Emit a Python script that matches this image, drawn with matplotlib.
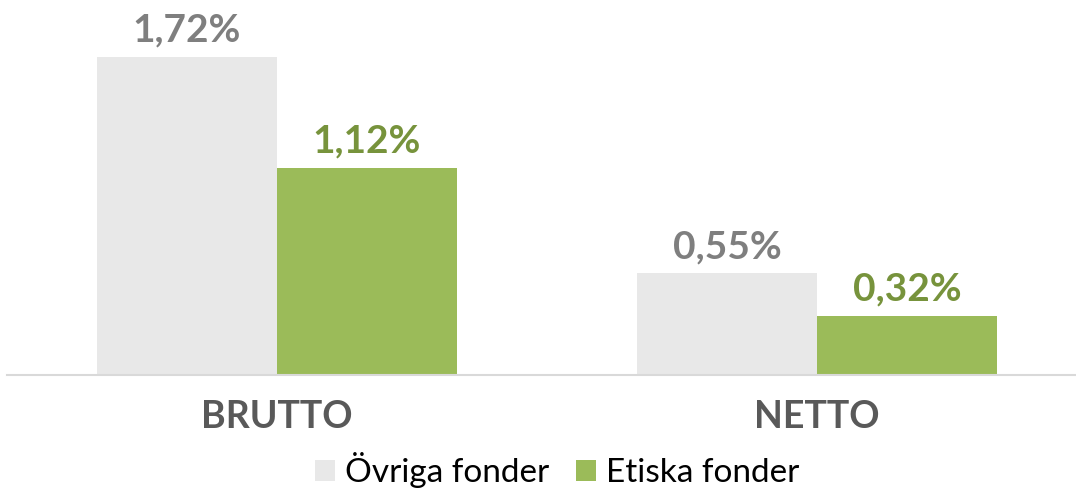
import matplotlib.pyplot as plt
import numpy as np

# data
kategorier = ["BRUTTO", "NETTO"]
ovriga = [1.72, 0.55]
etiska = [1.12, 0.32]
serier = ["Övriga fonder", "Etiska fonder"]

plt.rcParams['font.family'] = ['Lato', 'DejaVu Sans']

fig = plt.figure(figsize=(10.76, 4.94), dpi=100)
ax = fig.add_axes([7 / 1076, 119 / 494, 1080 / 1076, 375 / 494])

x = np.arange(len(kategorier))
w = 1 / 3
b1 = ax.bar(x - w / 2, ovriga, w, color="#e8e8e8", label=serier[0])
b2 = ax.bar(x + w / 2, etiska, w, color="#9bbb59", label=serier[1])

# etiketter ovanför staplarna
for bars, vals, col in [(b1, ovriga, "#7f7f7f"), (b2, etiska, "#77933c")]:
    for bar, v in zip(bars, vals):
        ax.annotate(f"{v:.2f}".replace(".", ",") + "%",
                    (bar.get_x() + bar.get_width() / 2, bar.get_height()),
                    xytext=(0, 11), textcoords="offset points",
                    ha="center", va="baseline", fontsize=28,
                    fontweight="bold", color=col)

ax.set_xlim(-0.5, 1.5)
ax.set_ylim(0, 375 / 184.9)
ax.set_xticks(x)
ax.set_xticklabels(kategorier, fontsize=27, fontweight="bold", color="#595959")
ax.tick_params(axis="x", length=0, pad=18)
ax.set_yticks([])
for s in ["top", "right", "left"]:
    ax.spines[s].set_visible(False)
ax.spines["bottom"].set_color("#d9d9d9")
ax.spines["bottom"].set_linewidth(1.5)

fig.legend(loc="center", bbox_to_anchor=(0.518, 1 - 470 / 494), ncol=2,
           frameon=False, fontsize=24, handlelength=0.6, handleheight=0.6,
           handletextpad=0.3, columnspacing=0.8)

fig.savefig("out.png", dpi=100)
